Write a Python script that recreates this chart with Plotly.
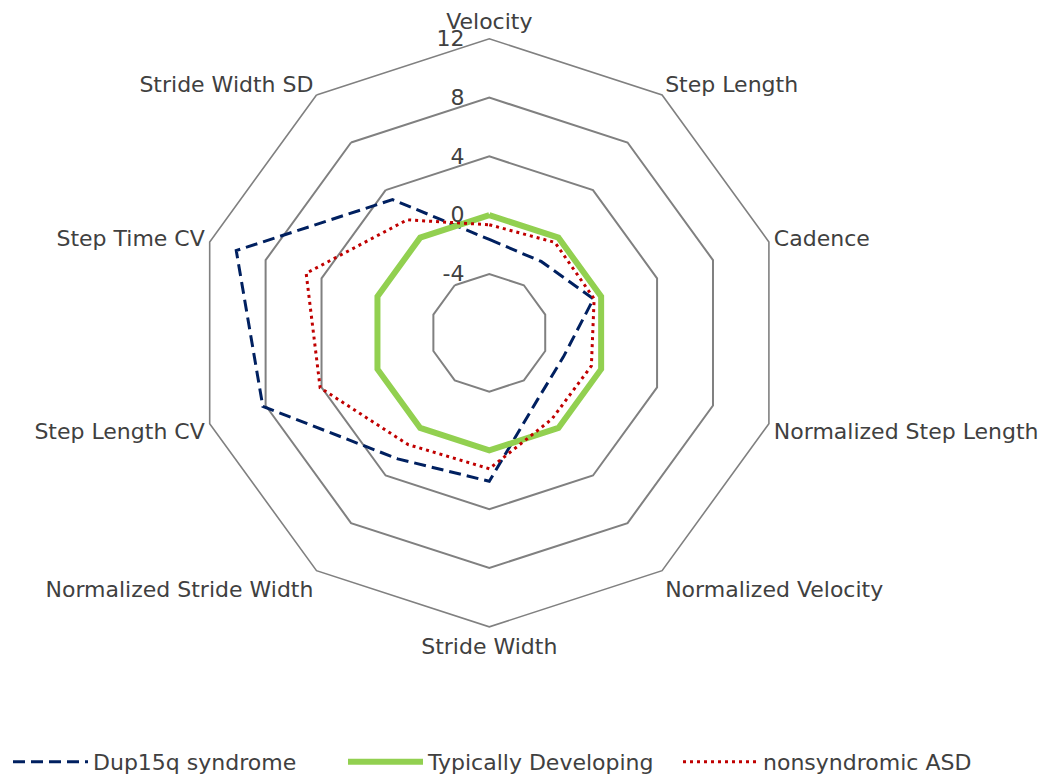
import plotly.graph_objects as go

categories = ["Velocity", "Step Length", "Cadence", "Normalized Step Length",
              "Normalized Velocity", "Stride Width", "Normalized Stride Width",
              "Step Length CV", "Step Time CV", "Stride Width SD"]

dup15q = [-1.65, -2.0, -0.55, -2.7, -2.4, 2.1, 2.6, 8.2, 10.1, 3.2]
typically_developing = [0, 0, 0, 0, 0, 0, 0, 0, 0, 0]
nonsyndromic_asd = [-0.65, -0.4, -0.5, -0.7, -0.75, 1.25, 1.4, 4.1, 5.1, 1.5]

radial_ticks = [-4, 0, 4, 8, 12]
radial_tick_labels = ["-4", "0", "4", "8", "12"]


def closed(vals):
    return list(vals) + [vals[0]]


cats_closed = closed(categories)

fig = go.Figure()
fig.add_trace(go.Scatterpolar(
    r=closed(dup15q), theta=cats_closed, mode="lines", name="Dup15q syndrome",
    line=dict(color="#002060", width=3, dash="12px,6px")))
fig.add_trace(go.Scatterpolar(
    r=closed(typically_developing), theta=cats_closed, mode="lines",
    name="Typically Developing",
    line=dict(color="#92D050", width=6)))
fig.add_trace(go.Scatterpolar(
    r=closed(nonsyndromic_asd), theta=cats_closed, mode="lines",
    name="nonsyndromic ASD",
    line=dict(color="#C00000", width=3, dash="3px,4px")))

W, H = 1050, 777
OFF = 8  # page body margin
cx, cy, R = 489.3 - OFF, 332.8 - OFF, 294

FONT = "DejaVu Sans, Arial, sans-serif"
NBSP = "\u00a0"
padded_labels = [t + NBSP * 3 for t in radial_tick_labels]

fig.update_layout(
    width=W, height=H,
    margin=dict(l=0, r=0, t=0, b=0),
    paper_bgcolor="white", plot_bgcolor="white",
    font=dict(family=FONT, size=22, color="#404040"),
    polar=dict(
        domain=dict(x=[(cx - R) / W, (cx + R) / W],
                    y=[1 - (cy + R) / H, 1 - (cy - R) / H]),
        bgcolor="white",
        gridshape="linear",
        angularaxis=dict(direction="clockwise", rotation=90,
                         showgrid=False, showline=True, linecolor="#808080",
                         linewidth=1.6, ticks="",
                         tickfont=dict(family=FONT, size=22, color="#404040")),
        radialaxis=dict(range=[-8, 12], tickvals=radial_ticks,
                        ticktext=padded_labels,
                        angle=90, tickangle=90,
                        side="counterclockwise",
                        showline=False, ticks="", showgrid=True,
                        gridcolor="#808080", gridwidth=1.6,
                        tickfont=dict(family=FONT, size=22, color="#404040")),
    ),
    showlegend=True,
    legend=dict(orientation="h", x=0, xanchor="left",
                y=(H - (762 - OFF)) / H, yanchor="middle",
                font=dict(family=FONT, size=22, color="#404040"),
                itemwidth=75, entrywidth=245, entrywidthmode="pixels"),
)

fig.write_html("out.html")
